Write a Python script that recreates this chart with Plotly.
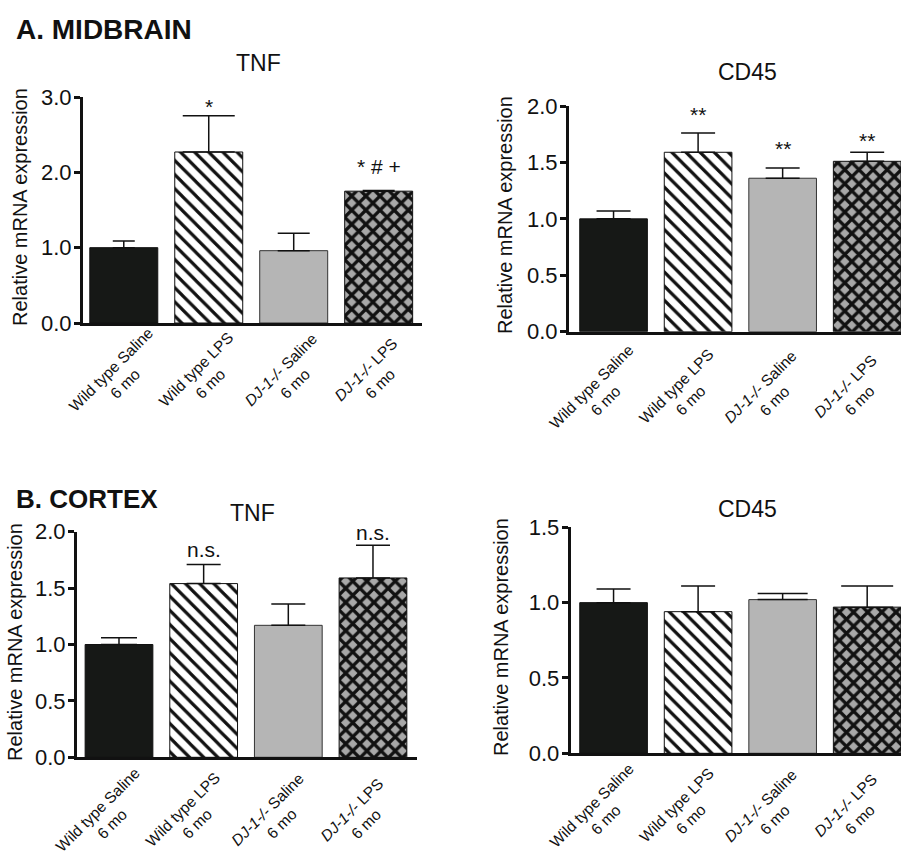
import re
import plotly.graph_objects as go

# ---------------- data ----------------
categories = ["Wild type Saline", "Wild type LPS", "<i>DJ-1-/-</i> Saline", "<i>DJ-1-/-</i> LPS"]
age_label = "6 mo"

midbrain_tnf = [1.00, 2.27, 0.96, 1.75]
midbrain_tnf_err = [0.09, 0.48, 0.23, 0.01]
midbrain_tnf_sig = ["", "*", "", "* # +"]

midbrain_cd45 = [1.00, 1.59, 1.36, 1.51]
midbrain_cd45_err = [0.07, 0.17, 0.09, 0.08]
midbrain_cd45_sig = ["", "**", "**", "**"]

cortex_tnf = [1.00, 1.54, 1.17, 1.59]
cortex_tnf_err = [0.06, 0.17, 0.19, 0.29]
cortex_tnf_sig = ["", "n.s.", "", "n.s."]

cortex_cd45 = [1.00, 0.94, 1.02, 0.97]
cortex_cd45_err = [0.09, 0.17, 0.04, 0.14]
cortex_cd45_sig = ["", "", "", ""]

y_ticks_tnf_mb = [0.0, 1.0, 2.0, 3.0]
y_ticks_half_2 = [0.0, 0.5, 1.0, 1.5, 2.0]
y_ticks_half_15 = [0.0, 0.5, 1.0, 1.5]

# ---------------- styling ----------------
W, H = 901, 855
FONT = "Liberation Sans, Arial, sans-serif"

bar_styles = [
    dict(color="#161816", line=dict(color="#111111", width=1)),
    dict(color="white", line=dict(color="#111111", width=1),
         pattern=dict(shape="\\", fgcolor="#111111", bgcolor="white", size=10, solidity=0.32, fillmode="replace")),
    dict(color="#b5b5b5", line=dict(color="#333333", width=1)),
    dict(color="#a8a8a8", line=dict(color="#111111", width=1),
         pattern=dict(shape="x", fgcolor="#111111", bgcolor="#a8a8a8", size=10, solidity=0.55, fillmode="replace")),
]

# panel geometry in pixels: x0, x1, ytop, ybottom, xrange; label offset (px) of rotated category labels
panels = [
    dict(name="TNF", vals=midbrain_tnf, err=midbrain_tnf_err, sig=midbrain_tnf_sig, ticks=y_ticks_tnf_mb,
         px=(83, 422, 97, 323), xr=(-0.48, 3.51), caps=[11, 26, 16, 16], sigshift=[0, 9, 0, 24],
         title_xy=(258, 63), ytitle_xy=(20, 207), lab_off=(-6, -53)),
    dict(name="CD45", vals=midbrain_cd45, err=midbrain_cd45_err, sig=midbrain_cd45_sig, ticks=y_ticks_half_2,
         px=(569, 901, 106, 331.7), xr=(-0.527, 3.40), caps=[17, 17, 17, 17], sigshift=[0, 19, 20, 12],
         title_xy=(747, 72), ytitle_xy=(505, 215), lab_off=(-15, -62)),
    dict(name="TNF", vals=cortex_tnf, err=cortex_tnf_err, sig=cortex_tnf_sig, ticks=y_ticks_half_2,
         px=(77, 417, 531.7, 757.3), xr=(-0.496, 3.52), caps=[18, 17, 17, 17], sigshift=[0, 15, 0, 13],
         title_xy=(252, 513), ytitle_xy=(15, 642), lab_off=(-14, -59)),
    dict(name="CD45", vals=cortex_cd45, err=cortex_cd45_err, sig=cortex_cd45_sig, ticks=y_ticks_half_15,
         px=(570.7, 901, 527.3, 753.3), xr=(-0.507, 3.40), caps=[17, 17, 25, 26], sigshift=[0, 0, 0, 0],
         title_xy=(747, 509), ytitle_xy=(501, 637), lab_off=(-15, -59)),
]

TICK_FS = 15.5

fig = go.Figure()
annotations = []

for k, p in enumerate(panels):
    ax = "" if k == 0 else str(k + 1)
    x0, x1, yt, yb = p["px"]
    for i, cat in enumerate(categories):
        fig.add_trace(go.Bar(
            x=[cat], y=[p["vals"][i]],
            width=0.8,
            marker=bar_styles[i],
            error_y=dict(type="data", symmetric=False, array=[p["err"][i]], arrayminus=[0],
                         color="#111111", thickness=1.5, width=p["caps"][i]),
            xaxis="x" + ax, yaxis="y" + ax, showlegend=False,
        ))
        if p["sig"][i]:
            annotations.append(dict(
                x=cat, y=p["vals"][i] + p["err"][i], xref="x" + ax, yref="y" + ax,
                text=p["sig"][i], showarrow=False, yanchor="middle", yshift=p["sigshift"][i],
                font=dict(family=FONT, size=21, color="#111111"),
            ))
        # rotated category label (two lines, centred), placed below the axis
        annotations.append(dict(
            x=cat, y=0, xref="x" + ax, yref="y" + ax,
            text=f"{cat}<br>{age_label}", textangle=-45, align="center",
            showarrow=False, xanchor="center", yanchor="middle",
            xshift=p["lab_off"][0], yshift=p["lab_off"][1],
            font=dict(family=FONT, size=TICK_FS, color="#111111"),
        ))
    ymax = p["ticks"][-1]
    fig.layout["xaxis" + ax] = dict(
        domain=[x0 / W, x1 / W], anchor="y" + ax, type="category",
        categoryorder="array", categoryarray=categories,
        range=list(p["xr"]), showticklabels=False,
        showline=True, linecolor="#111111", linewidth=3, ticks="", showgrid=False,
        zeroline=False, automargin=False, fixedrange=True,
    )
    fig.layout["yaxis" + ax] = dict(
        domain=[1 - yb / H, 1 - yt / H], anchor="x" + ax,
        range=[0, ymax], tickvals=p["ticks"], ticktext=[f"{t:.1f}" for t in p["ticks"]],
        tickfont=dict(family=FONT, size=22, color="#111111"),
        showline=True, linecolor="#111111", linewidth=3, ticks="outside", ticklen=6, tickwidth=3,
        tickcolor="#111111", showgrid=False, zeroline=False, automargin=False, ticklabelstandoff=-2,
        fixedrange=True,
    )
    tx, ty = p["title_xy"]
    annotations.append(dict(x=tx / W, y=1 - ty / H, xref="paper", yref="paper", text=p["name"],
                            showarrow=False, xanchor="center", yanchor="middle",
                            font=dict(family=FONT, size=23, color="#111111")))
    yx, yy = p["ytitle_xy"]
    annotations.append(dict(x=yx / W, y=1 - yy / H, xref="paper", yref="paper",
                            text="Relative mRNA expression", textangle=-90,
                            showarrow=False, xanchor="center", yanchor="middle",
                            font=dict(family=FONT, size=20, color="#111111")))

annotations.append(dict(x=14 / W, y=1 - 29 / H, xref="paper", yref="paper", text="<b>A. MIDBRAIN</b>",
                        showarrow=False, xanchor="left", yanchor="middle",
                        font=dict(family=FONT, size=28, color="#111111")))
annotations.append(dict(x=14 / W, y=1 - 499 / H, xref="paper", yref="paper", text="<b>B. CORTEX</b>",
                        showarrow=False, xanchor="left", yanchor="middle",
                        font=dict(family=FONT, size=26, color="#111111")))

fig.update_layout(
    width=W, height=H, autosize=False,
    margin=dict(l=0, r=0, t=0, b=0),
    paper_bgcolor="white", plot_bgcolor="white",
    barmode="overlay", showlegend=False,
    annotations=annotations,
    font=dict(family=FONT, color="#111111"),
)

fig.write_html("out.html", config={"displayModeBar": False, "staticPlot": True},
               post_script="document.body.style.margin='0';document.body.style.overflow='hidden';")
